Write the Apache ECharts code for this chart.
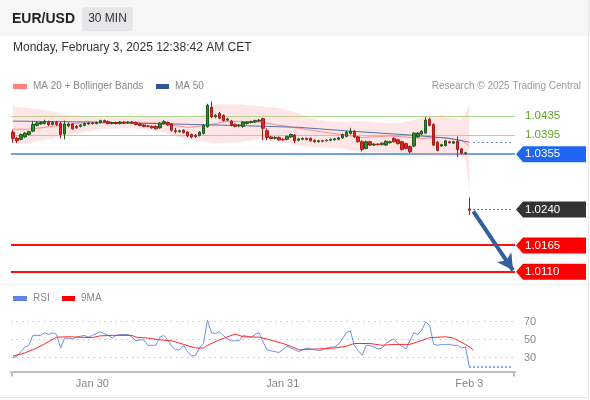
<!DOCTYPE html>
<html><head><meta charset="utf-8">
<script src="https://cdn.jsdelivr.net/npm/echarts@6/dist/echarts.min.js"></script>
<style>html,body{margin:0;padding:0;background:#fff}#c{width:590px;height:400px}</style>
</head><body><div id="c"></div>
<script>
// ---- data ----
// [day label, first hour, number of 30-min slots]
const sessions = [['Jan 29', 14, 20], ['Jan 30', 0, 48], ['Jan 31', 0, 47], ['Feb 3', 0, 12]];
// [open, close, low, high]
const candles = [
[1.0401,1.0388,1.0379,1.0406],[1.0388,1.0383,1.0378,1.0391],[1.0386,1.0396,1.0384,1.0398],[1.0391,1.0399,1.0389,1.0401],
[1.0396,1.0402,1.0394,1.0404],[1.0403,1.0417,1.0401,1.0424],[1.0415,1.0420,1.0413,1.0424],[1.0418,1.0421,1.0416,1.0423],
[1.0419,1.0423,1.0417,1.0427],[1.0422,1.0416,1.0414,1.0425],[1.0417,1.0421,1.0415,1.0424],[1.0421,1.0417,1.0414,1.0424],
[1.0419,1.0396,1.0388,1.0422],[1.0397,1.0418,1.0386,1.0425],[1.0414,1.0418,1.0411,1.0421],[1.0418,1.0408,1.0406,1.0420],
[1.0413,1.0410,1.0408,1.0416],[1.0413,1.0416,1.0411,1.0418],[1.0415,1.0419,1.0413,1.0421],[1.0418,1.0420,1.0416,1.0422],
[1.0420,1.0419,1.0417,1.0422],[1.0419,1.0421,1.0417,1.0423],[1.0421,1.0425,1.0419,1.0427],[1.0425,1.0422,1.0420,1.0427],
[1.0423,1.0419,1.0417,1.0425],[1.0419,1.0421,1.0417,1.0423],[1.0421,1.0419,1.0417,1.0423],[1.0419,1.0422,1.0417,1.0424],
[1.0422,1.0420,1.0418,1.0424],[1.0420,1.0422,1.0418,1.0424],[1.0422,1.0420,1.0418,1.0424],[1.0421,1.0417,1.0415,1.0423],
[1.0418,1.0415,1.0413,1.0420],[1.0416,1.0413,1.0411,1.0418],[1.0414,1.0413,1.0411,1.0416],[1.0413,1.0410,1.0408,1.0415],
[1.0413,1.0408,1.0406,1.0415],[1.0410,1.0420,1.0408,1.0422],[1.0419,1.0423,1.0417,1.0426],[1.0421,1.0416,1.0414,1.0423],
[1.0418,1.0405,1.0402,1.0420],[1.0404,1.0402,1.0398,1.0410],[1.0402,1.0404,1.0400,1.0406],[1.0405,1.0400,1.0398,1.0407],
[1.0401,1.0393,1.0390,1.0403],[1.0396,1.0391,1.0388,1.0398],[1.0394,1.0392,1.0389,1.0397],[1.0394,1.0401,1.0392,1.0403],
[1.0398,1.0415,1.0396,1.0418],[1.0412,1.0457,1.0410,1.0460],[1.0453,1.0433,1.0430,1.0465],[1.0433,1.0436,1.0430,1.0439],
[1.0440,1.0430,1.0428,1.0443],[1.0436,1.0425,1.0423,1.0438],[1.0426,1.0428,1.0423,1.0431],[1.0424,1.0416,1.0413,1.0426],
[1.0417,1.0413,1.0411,1.0419],[1.0414,1.0416,1.0411,1.0418],[1.0413,1.0422,1.0410,1.0424],[1.0419,1.0422,1.0417,1.0424],
[1.0421,1.0423,1.0419,1.0425],[1.0422,1.0425,1.0420,1.0427],[1.0424,1.0426,1.0422,1.0428],[1.0429,1.0409,1.0384,1.0431],
[1.0404,1.0390,1.0384,1.0409],[1.0391,1.0388,1.0386,1.0393],[1.0388,1.0390,1.0386,1.0392],[1.0390,1.0385,1.0383,1.0392],
[1.0386,1.0385,1.0383,1.0388],[1.0386,1.0392,1.0384,1.0394],[1.0391,1.0396,1.0389,1.0398],[1.0395,1.0383,1.0378,1.0397],
[1.0384,1.0387,1.0382,1.0389],[1.0386,1.0388,1.0384,1.0390],[1.0388,1.0386,1.0384,1.0390],[1.0388,1.0383,1.0381,1.0390],
[1.0384,1.0381,1.0379,1.0386],[1.0381,1.0383,1.0379,1.0385],[1.0383,1.0382,1.0380,1.0385],[1.0383,1.0384,1.0381,1.0386],
[1.0384,1.0386,1.0382,1.0388],[1.0385,1.0387,1.0383,1.0389],[1.0386,1.0389,1.0384,1.0391],[1.0389,1.0396,1.0387,1.0398],
[1.0392,1.0401,1.0390,1.0403],[1.0398,1.0403,1.0396,1.0410],[1.0403,1.0391,1.0389,1.0405],[1.0391,1.0381,1.0379,1.0393],
[1.0381,1.0365,1.0361,1.0384],[1.0367,1.0381,1.0365,1.0383],[1.0381,1.0374,1.0372,1.0383],[1.0374,1.0376,1.0372,1.0378],
[1.0376,1.0375,1.0373,1.0378],[1.0375,1.0378,1.0373,1.0380],[1.0374,1.0382,1.0372,1.0384],[1.0379,1.0381,1.0377,1.0383],
[1.0388,1.0381,1.0379,1.0390],[1.0385,1.0377,1.0375,1.0387],[1.0381,1.0365,1.0363,1.0383],[1.0377,1.0367,1.0365,1.0379],
[1.0371,1.0360,1.0357,1.0373],[1.0372,1.0399,1.0370,1.0401],[1.0391,1.0399,1.0389,1.0401],[1.0397,1.0403,1.0395,1.0405],
[1.0399,1.0426,1.0397,1.0432],[1.0428,1.0415,1.0413,1.0431],[1.0417,1.0374,1.0372,1.0419],[1.0380,1.0363,1.0361,1.0382],
[1.0372,1.0375,1.0370,1.0377],[1.0373,1.0383,1.0371,1.0385],[1.0381,1.0379,1.0377,1.0383],[1.0378,1.0381,1.0376,1.0383],
[1.0382,1.0365,1.0349,1.0392],[1.0366,1.0357,1.0355,1.0368],[1.0356,1.0358,1.0354,1.0360],[1.0241,1.0238,1.0228,1.0265]
];
// indicator readings: [candle index, value]
const ma20 = [[0,1.0407],[4,1.0407],[12,1.0415],[17,1.0420],[36,1.0420],[44,1.0411],[49,1.0415],[54,1.0424],[62,1.0422],[72,1.0409],[80,1.0399],[88,1.0390],[95,1.0393],[103,1.0388],[108,1.0390],[113,1.0384],[115,1.0372]];
const ma50 = [[0,1.0424],[20,1.0422],[40,1.0418],[60,1.0414],[72,1.0411],[85,1.0403],[100,1.0395],[110,1.0388],[115,1.0380]];
const bbIndex = [0,4,8,14,22,29,36,42,47,51,57,62,67,72,77,82,88,93,98,103,108,113,114,115];
const bbUpper = [1.0455,1.0451,1.0447,1.0436,1.0432,1.0432,1.0434,1.0432,1.0430,1.0459,1.0459,1.0455,1.0451,1.0440,1.0426,1.0422,1.0424,1.0420,1.0420,1.0432,1.0436,1.0426,1.0440,1.0459];
const bbLower = [1.0378,1.0378,1.0384,1.0395,1.0407,1.0409,1.0405,1.0390,1.0382,1.0378,1.0380,1.0386,1.0382,1.0372,1.0370,1.0368,1.0359,1.0359,1.0357,1.0353,1.0351,1.0349,1.0343,1.0280];
const ma50Projection = [1.0379];
const resistances = [1.0435, 1.0395];
const pivot = [1.0355];
const lastPrice = [1.0240];
const supports = [1.0165, 1.0110];
const rsi = [29,31,36,41,43,54,54,54,57,55,57,55,40,51,51,50,52,53,54,52,
54,56,58,56,54,51,54,55,55,55,52,48,49,49,43,43,43,52,54,49,
42,38,38,43,36,31,32,40,45,71,57,56,58,54,50,48,48,48,54,53,
52,55,57,47,38,37,36,35,38,42,40,38,36,38,40,39,38,37,38,40,
41,41,44,50,57,59,43,37,32,43,43,41,39,40,45,48,50,45,42,39,
48,57,55,60,69,65,44,43,44,44,44,43,43,40,41,19];
const rsiMa9 = [[0,31],[3,34.5],[6,40],[9,47],[11,52],[14,52.5],[17,52],[20,51.5],[22,53.5],[25,54],[30,54],[31,52],[34,51],[37,49],[40,48],[43,44],[46,40],[48,40],[49,43],[52,49],[56,55.5],[58,52.5],[62,52],[64,50],[68,45],[70,42],[72,38],[77,39],[81,40],[84,42],[86,45],[90,45],[93,43],[96,44],[100,44],[102,47],[105,51.5],[109,52.5],[111,51],[114,44],[116,38]];
const rsiLevels = [70, 50, 30];

// ---- build ----
const cats = [];
sessions.forEach(([day, h, n]) => {
  for (let k = 0; k < n; k++) {
    const m = h * 60 + 30 * k;
    cats.push(day + ' ' + String(Math.floor(m / 60)).padStart(2, '0') + ':' + String(m % 60).padStart(2, '0'));
  }
});
const last = candles.length - 1;
const endCat = cats[cats.length - 1];
const F = '"Liberation Sans", Arial, sans-serif';
const GL = 11, GR = 75;
const pairs = arr => arr.map(([i, v]) => [cats[i], v]);

const chart = echarts.init(document.getElementById('c'));
const option = {
  animation: false,
  backgroundColor: '#fff',
  grid: [
    { left: GL, right: GR, top: 99, height: 182.4 },
    { left: GL, right: GR, top: 306.6, height: 64.8 }
  ],
  xAxis: [
    { type: 'category', data: cats, gridIndex: 0, boundaryGap: true, show: false },
    { type: 'category', data: cats, gridIndex: 1, boundaryGap: true,
      axisLine: { lineStyle: { color: '#bdbdbd', width: 2 } },
      axisTick: { show: false },
      axisLabel: { interval: (i, v) => v.endsWith(' 00:00'), formatter: v => v.slice(0, -6),
        color: '#888', fontSize: 11, fontFamily: F, margin: 7 },
      splitLine: { show: false } }
  ],
  yAxis: [
    { type: 'value', gridIndex: 0, min: 1.009, max: 1.047, show: false, splitLine: { show: false } },
    { type: 'value', gridIndex: 1, min: 14, max: 86, show: false, splitLine: { show: false } }
  ],
  series: [
    { name: 'bbLow', type: 'line', stack: 'bb', symbol: 'none', silent: true, z: 1,
      data: bbIndex.map((i, k) => [cats[i], bbLower[k]]), lineStyle: { width: 0, opacity: 0 } },
    { name: 'bbBand', type: 'line', stack: 'bb', symbol: 'none', silent: true, z: 1,
      data: bbIndex.map((i, k) => [cats[i], +(bbUpper[k] - bbLower[k]).toFixed(5)]),
      lineStyle: { width: 0, opacity: 0 }, areaStyle: { color: 'rgba(255,160,160,0.26)', opacity: 1 } },
    { name: 'MA 20', type: 'line', data: pairs(ma20), symbol: 'none', z: 3,
      lineStyle: { color: '#ff8a8a', width: 1 } },
    { name: 'MA 50', type: 'line', data: pairs(ma50), symbol: 'none', z: 3,
      lineStyle: { color: '#4f72b3', width: 1 },
      markLine: { silent: true, symbol: 'none', label: { show: false }, animation: false,
        data: [
          [{ coord: [cats[last + 1], lastPrice[0]], lineStyle: { color: '#444', width: 1, type: [1.5, 2.5] } },
           { coord: [endCat, lastPrice[0]] }],
          [{ coord: [cats[last + 1], ma50Projection[0]], lineStyle: { color: '#4a6a9e', width: 1, type: [1.5, 3] } },
           { coord: [endCat, ma50Projection[0]] }]
        ] } },
    { name: 'EUR/USD', type: 'candlestick', data: candles, barWidth: 3, z: 5,
      itemStyle: { color: '#2e8b2e', color0: '#e12626', borderColor: '#1e5a1e', borderColor0: '#a81a1a', borderWidth: 1 } },
    { name: 'arrow', type: 'line', data: [], z: 6,
      markLine: { silent: true, symbol: ['none', 'arrow'], symbolSize: [13, 16], label: { show: false },
        lineStyle: { color: '#2f5f9f', width: 4, type: 'solid' },
        data: [[{ coord: [cats[last + 1], lastPrice[0] - 0.0004] }, { coord: [endCat, supports[1] + 0.0003] }]] } },
    { name: 'RSI', type: 'line', xAxisIndex: 1, yAxisIndex: 1, data: rsi, symbol: 'none', z: 3,
      lineStyle: { color: '#7090e6', width: 1 } },
    { name: 'RSI proj', type: 'line', xAxisIndex: 1, yAxisIndex: 1, symbol: 'none', z: 3,
      data: [[cats[last], rsi[last]], [endCat, rsi[last]]],
      lineStyle: { color: '#7090e6', width: 2, type: [1.5, 2.5] } },
    { name: '9MA', type: 'line', xAxisIndex: 1, yAxisIndex: 1, data: pairs(rsiMa9), symbol: 'none', z: 4,
      lineStyle: { color: '#ff2a2a', width: 1 } }
  ]
};
chart.setOption(option);

// ---- overlays (levels, text, legends, value tags) ----
const gx0 = GL, gx1 = 590 - GR;
const g = [];
g.push({ type: 'rect', shape: { x: 0, y: 0, width: 590, height: 36 }, style: { fill: '#f6f6f6' }, z: -1, silent: true });
// horizontal level lines (through the y scale), drawn beneath the candles
const py = v => chart.convertToPixel({ yAxisIndex: 0 }, v);
const ry = v => chart.convertToPixel({ yAxisIndex: 1 }, v);
const hline = (y, stroke, w, dash) => g.push({ type: 'line', z: 0, silent: true,
  shape: { x1: gx0, y1: y, x2: gx1, y2: y }, style: { stroke, lineWidth: w, lineDash: dash || null } });
resistances.forEach(v => hline(Math.round(py(v)) + 0.5, '#a9d98d', 1));
pivot.forEach(v => hline(Math.round(py(v)), '#6f9ef0', 2));
supports.forEach(v => hline(Math.round(py(v)), '#ff1010', 2));
rsiLevels.forEach(v => {
  const y = Math.round(ry(v)) + 0.5;
  hline(y, '#c4c4c4', 1, [1.5, 4]);
  g.push({ type: 'text', x: gx1 + 9, y: y, style: { text: String(v), font: '11px ' + F, fill: '#888', verticalAlign: 'middle' } });
});

g.push({ type: 'text', x: 12, y: 19, style: { text: 'EUR/USD', font: 'bold 14px ' + F, fill: '#222', verticalAlign: 'middle' } });
g.push({ type: 'rect', shape: { x: 82, y: 7, width: 51, height: 24, r: 2 }, style: { fill: '#e6e6e9' } });
g.push({ type: 'text', x: 107.5, y: 19, style: { text: '30 MIN', font: '12px ' + F, fill: '#333', align: 'center', verticalAlign: 'middle' } });
g.push({ type: 'text', x: 13, y: 48, style: { text: 'Monday, February 3, 2025 12:38:42 AM CET', font: '12px ' + F, fill: '#333', verticalAlign: 'middle' } });
g.push({ type: 'rect', shape: { x: 13, y: 84, width: 14, height: 5 }, style: { fill: '#ff8080' } });
g.push({ type: 'text', x: 33, y: 86.5, style: { text: 'MA 20 + Bollinger Bands', font: '10px ' + F, fill: '#888', verticalAlign: 'middle' } });
g.push({ type: 'rect', shape: { x: 156, y: 84, width: 13, height: 5 }, style: { fill: '#2f5597' } });
g.push({ type: 'text', x: 175, y: 86.5, style: { text: 'MA 50', font: '10px ' + F, fill: '#888', verticalAlign: 'middle' } });
g.push({ type: 'text', x: 581, y: 86.5, style: { text: 'Research \u00a9 2025 Trading Central', font: '10px ' + F, fill: '#9a9a9a', align: 'right', verticalAlign: 'middle' } });
g.push({ type: 'line', shape: { x1: 0, y1: 284.5, x2: 590, y2: 284.5 }, style: { stroke: '#f0f0f0', lineWidth: 1 } });
g.push({ type: 'rect', shape: { x: 13, y: 296, width: 14, height: 5 }, style: { fill: '#5f83e2' } });
g.push({ type: 'text', x: 33, y: 298.5, style: { text: 'RSI', font: '10px ' + F, fill: '#888', verticalAlign: 'middle' } });
g.push({ type: 'rect', shape: { x: 62, y: 296, width: 13, height: 5 }, style: { fill: '#ff0000' } });
g.push({ type: 'text', x: 81, y: 298.5, style: { text: '9MA', font: '10px ' + F, fill: '#888', verticalAlign: 'middle' } });
// axis end ticks
const axisY = 306.6 + 64.8;
g.push({ type: 'line', shape: { x1: gx0 + 1, y1: axisY, x2: gx0 + 1, y2: axisY + 5 }, style: { stroke: '#bdbdbd', lineWidth: 2 } });
g.push({ type: 'line', shape: { x1: gx1 - 1, y1: axisY, x2: gx1 - 1, y2: axisY + 5 }, style: { stroke: '#bdbdbd', lineWidth: 2 } });
// frame
g.push({ type: 'line', shape: { x1: 588.5, y1: 0, x2: 588.5, y2: 397.5 }, style: { stroke: '#e6e6e6', lineWidth: 1 } });
g.push({ type: 'line', shape: { x1: 0, y1: 397.5, x2: 588.5, y2: 397.5 }, style: { stroke: '#e6e6e6', lineWidth: 1 } });

const tagX = gx1 + 1;
function tag(v, fill) {
  const y = py(v);
  g.push({ type: 'polygon', shape: { points: [[tagX, y], [tagX + 7, y - 8], [586, y - 8], [586, y + 8], [tagX + 7, y + 8]] }, style: { fill } });
  g.push({ type: 'text', x: tagX + 9, y: y, style: { text: v.toFixed(4), font: '11.5px ' + F, fill: '#fff', verticalAlign: 'middle' } });
}
resistances.forEach(v => {
  g.push({ type: 'text', x: tagX + 9, y: py(v), style: { text: v.toFixed(4), font: '11.5px ' + F, fill: '#5fa82a', verticalAlign: 'middle' } });
});
pivot.forEach(v => tag(v, '#1f66f2'));
lastPrice.forEach(v => tag(v, '#333333'));
supports.forEach(v => tag(v, '#ff0000'));
chart.setOption({ graphic: g });
</script></body></html>
